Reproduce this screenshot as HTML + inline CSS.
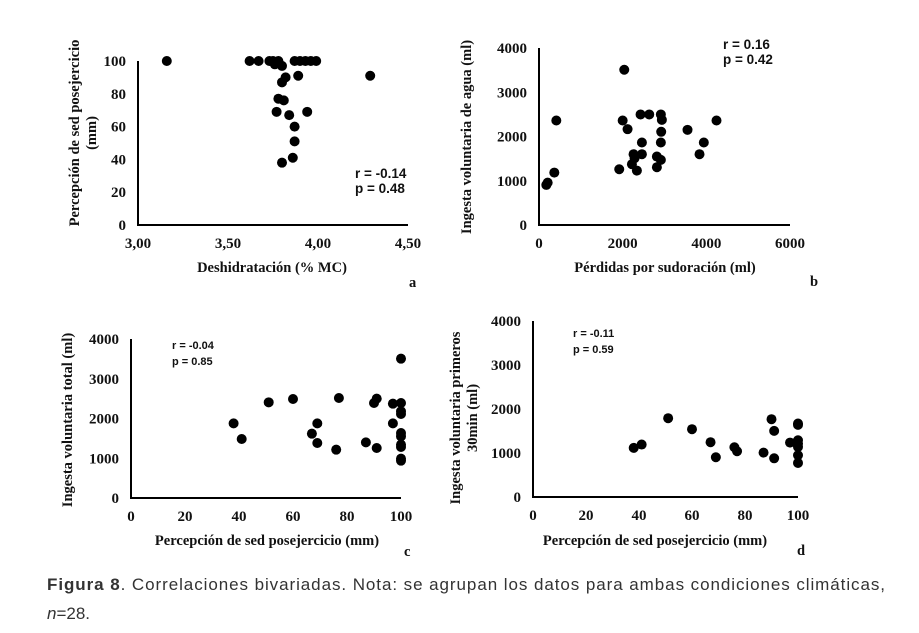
<!DOCTYPE html>
<html><head><meta charset="utf-8">
<style>
body{margin:0;background:#fff;width:919px;height:633px;overflow:hidden}
svg{display:block}
.tk{font-family:"Liberation Serif",serif;font-weight:bold;font-size:15px;fill:#111}
.tt{font-family:"Liberation Serif",serif;font-weight:bold;font-size:14.5px;fill:#111}
.st{font-family:"Liberation Sans",sans-serif;font-weight:bold;fill:#111}
.cap{font-family:"Liberation Sans",sans-serif;font-size:17px;fill:#333}
</style></head>
<body>
<svg id="fig" width="919" height="633" viewBox="0 0 919 633" xmlns="http://www.w3.org/2000/svg">
<text class="cap" x="47" y="590" textLength="838" lengthAdjust="spacing"><tspan font-weight="bold">Figura 8</tspan>. Correlaciones bivariadas. Nota: se agrupan los datos para ambas condiciones climáticas,</text>
<text class="cap" x="47" y="619"><tspan font-style="italic">n</tspan>=28.</text>
</svg>
<script>
// Panel a
const aX=[3.16,3.62,3.67,3.73,3.75,3.78,3.76,3.80,3.87,3.90,3.93,3.96,3.99,3.82,3.80,3.89,4.29,3.78,3.81,3.77,3.84,3.94,3.87,3.87,3.86,3.80];
const aY=[100,100,100,100,100,100,98,97,100,100,100,100,100,90,87,91,91,77,76,69,67,69,60,51,41,38];
const aXTicks=["3,00","3,50","4,00","4,50"];
const aYTicks=["0","20","40","60","80","100"];
// Panel b
const bX=[2038,414,2000,2117,2428,2635,2913,2937,2921,3550,4243,2460,2913,3940,2260,2460,2285,2818,2913,3837,2221,1918,2340,2818,366,207,175];
const bY=[3509,2362,2362,2166,2498,2498,2498,2377,2106,2151,2362,1864,1864,1864,1600,1600,1510,1547,1472,1600,1374,1260,1230,1306,1185,958,906];
const bXTicks=["0","2000","4000","6000"];
const bYTicks=["0","1000","2000","3000","4000"];
// Panel c
const cX=[38,41,51,60,77,67,69,69,76,87,91,90,91,97,97,100,100,100,100,100,100,100,100,100,100];
const cY=[1878,1484,2407,2490,2516,1618,1878,1384,1216,1400,1258,2390,2500,2373,1878,3505,2390,2180,2113,1635,1551,1342,1283,990,939];
const cXTicks=["0","20","40","60","80","100"];
const cYTicks=["0","1000","2000","3000","4000"];
// Panel d
const dX=[38,41,51,60,67,69,76,77,87,90,91,91,97,100,100,100,100,100,100,100];
const dY=[1116,1192,1791,1541,1245,903,1131,1040,1009,1768,1503,880,1237,1670,1640,1290,1214,1138,949,774];
const dXTicks=["0","20","40","60","80","100"];
const dYTicks=["0","1000","2000","3000","4000"];

const NS="http://www.w3.org/2000/svg";
const svg=document.getElementById('fig');
function mk(tag,attrs,parent,txt){const e=document.createElementNS(NS,tag);for(const k in attrs)e.setAttribute(k,attrs[k]);if(txt!==undefined)e.textContent=txt;(parent||svg).appendChild(e);return e;}

function panel(p){
  const g=mk('g',{});
  
  
  const sx=v=>p.x0+(v-p.xmin)/(p.xmax-p.xmin)*(p.x1-p.x0);
  const sy=v=>p.y0-(v-p.ymin)/(p.ymax-p.ymin)*(p.y0-p.y1);
  const ya=mk('line',{x1:p.x0,y1:p.y1,x2:p.x0,y2:p.y0,stroke:'#000','stroke-width':2},g);
  
  
  const xa=mk('line',{x1:p.x0-1,y1:p.y0,x2:p.x1,y2:p.y0,stroke:'#000','stroke-width':2},g);
  
  
  p.xt.forEach((t,i)=>{const v=p.xmin+i*(p.xmax-p.xmin)/(p.xt.length-1);
    const e=mk('text',{class:'tk',x:sx(v),y:p.y0+23,'text-anchor':'middle'},g,t);
    
    });
  p.yt.forEach((t,i)=>{const v=p.ymin+i*(p.ymax-p.ymin)/(p.yt.length-1);
    const e=mk('text',{class:'tk',x:p.x0-12,y:sy(v)+5,'text-anchor':'end'},g,t);
    
    });
  p.xs.forEach((v,i)=>{const c=mk('circle',{cx:sx(v),cy:sy(p.ys[i]),r:5,fill:'#000'},g);
    
    });
  const xtl=mk('text',{class:'tt',x:p.xtx,y:p.xty,'text-anchor':'middle'},g,p.xtitle);
  
  
  p.ytitle.forEach((t,i)=>{const e=mk('text',{class:'tt',x:0,y:0,'text-anchor':'middle',transform:`translate(${p.ytx+i*17},${p.yty}) rotate(-90)`},g,t);
    
    });
  const lb=mk('text',{class:'tt',x:p.lx,y:p.ly,'font-size':'19'},g,p.id);
  
  
  p.stats.forEach((t,i)=>{const e=mk('text',{class:'st',x:p.sx,y:p.sy+i*p.sdy,'font-size':p.sfs},g,t);
    
    });
}
panel({id:'a',xs:aX,ys:aY,xt:aXTicks,yt:aYTicks,xmin:3,xmax:4.5,ymin:0,ymax:100,x0:138,x1:408,y0:225,y1:61,
  xtitle:'Deshidratación (% MC)',xtx:272,xty:272,ytitle:['Percepción de sed posejercicio','(mm)'],ytx:79,yty:133,lx:409,ly:287,
  stats:['r = -0.14','p = 0.48'],sx:355,sy:178,sdy:15,sfs:13.5});
panel({id:'b',xs:bX,ys:bY,xt:bXTicks,yt:bYTicks,xmin:0,xmax:6000,ymin:0,ymax:4000,x0:539,x1:790,y0:225,y1:48,
  xtitle:'Pérdidas por sudoración (ml)',xtx:665,xty:272,ytitle:['Ingesta voluntaria de agua (ml)'],ytx:471,yty:137,lx:810,ly:286,
  stats:['r =  0.16','p = 0.42'],sx:723,sy:49,sdy:15,sfs:13.5});
panel({id:'c',xs:cX,ys:cY,xt:cXTicks,yt:cYTicks,xmin:0,xmax:100,ymin:0,ymax:4000,x0:131,x1:401,y0:498,y1:339,
  xtitle:'Percepción de sed posejercicio (mm)',xtx:267,xty:545,ytitle:['Ingesta voluntaria total (ml)'],ytx:72,yty:420,lx:404,ly:556,
  stats:['r = -0.04','p = 0.85'],sx:172,sy:349,sdy:16,sfs:11});
panel({id:'d',xs:dX,ys:dY,xt:dXTicks,yt:dYTicks,xmin:0,xmax:100,ymin:0,ymax:4000,x0:533,x1:798,y0:497,y1:321,
  xtitle:'Percepción de sed posejercicio (mm)',xtx:655,xty:545,ytitle:['Ingesta voluntaria primeros','30min (ml)'],ytx:460,yty:418,lx:797,ly:555,
  stats:['r = -0.11','p = 0.59'],sx:573,sy:337,sdy:16,sfs:11});
</script>
</body></html>
